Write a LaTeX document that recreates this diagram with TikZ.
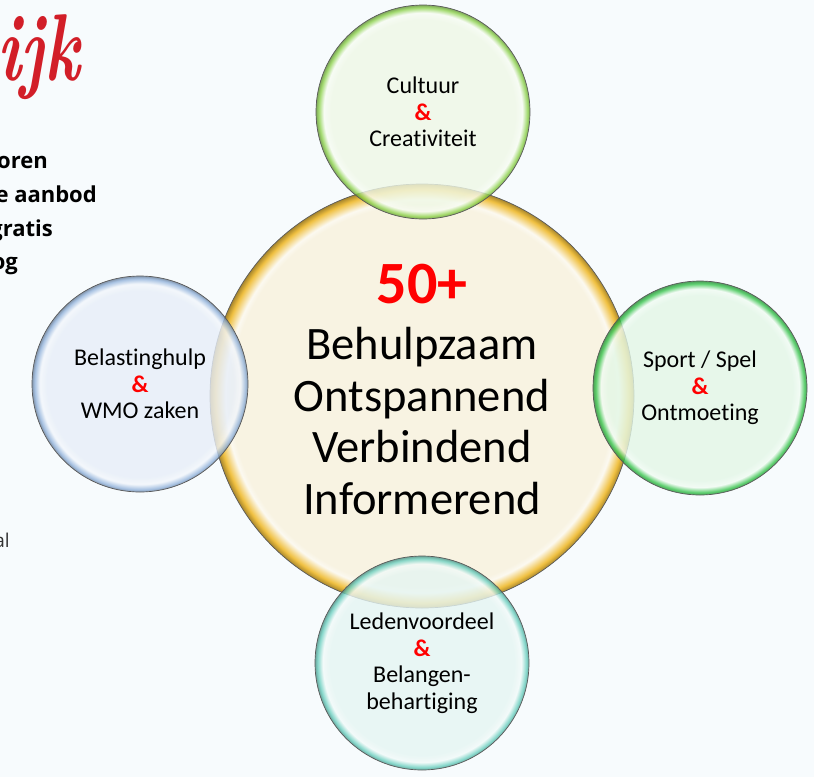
\documentclass[tikz,border=0pt]{standalone}
\usepackage{fontspec}
\usepackage{xcolor}
\newfontfamily\calibri[Ligatures=NoCommon]{Carlito}
\newfontfamily\listfont{Open Sans}
\definecolor{bg}{HTML}{F7FBFD}
\definecolor{amp}{rgb}{1,0,0}
\definecolor{brand}{HTML}{D21E28}
\definecolor{hubin}{HTML}{F8F3E2}
\definecolor{hubrim}{HTML}{F0C040}
\definecolor{topin}{HTML}{EFF8E6}
\definecolor{toprim}{HTML}{8CD24A}
\definecolor{rightin}{HTML}{E3F7E6}
\definecolor{rightrim}{HTML}{35C44A}
\definecolor{botin}{HTML}{E5F5F2}
\definecolor{botrim}{HTML}{6ACFBF}
\definecolor{leftin}{HTML}{E7EEF8}
\definecolor{leftrim}{HTML}{94B4DC}
% circle edge sits at 25bp of the shading
\newcommand{\bubbleshading}[4]{%
  \pgfdeclareradialshading{#1}{\pgfpoint{0bp}{0bp}}{color(0bp)=(#3); color(#4bp)=(#3); color(23.2bp)=(white!50!#3); color(24.4bp)=(#2); color(25bp)=(#2!70!black); color(50bp)=(#2!70!black)}}
\bubbleshading{hubshade}{hubrim}{hubin}{22.6}
\bubbleshading{topshade}{toprim}{topin}{21.6}
\bubbleshading{rightshade}{rightrim}{rightin}{21.6}
\bubbleshading{botshade}{botrim}{botin}{21.6}
\bubbleshading{leftshade}{leftrim}{leftin}{21.6}
\newcommand{\amp}{\textcolor{amp}{\textbf{\&}}}
\tikzstyle{bubble} = [circle,draw=black!65,line width=0.7pt,inner sep=0pt,align=center]
\tikzstyle{hub} = [bubble,minimum size=424pt,shading=hubshade]
\tikzstyle{sat} = [bubble,minimum size=214pt,fill opacity=0.8,text opacity=1,font=\calibri\fontsize{24}{26.5}\selectfont]
\tikzstyle{listline} = [anchor=base east,inner sep=0pt,font=\listfont\bfseries\fontsize{22}{26}\selectfont]

\begin{document}
\begin{tikzpicture}[x=1pt,y=-1pt]
  \useasboundingbox (0,0) rectangle (814,777);
  \fill[bg] (0,0) rectangle (814,777);
  \clip (0,0) rectangle (814,777);
  % slide text, cut off at the left edge
  \node (brand) [anchor=base east,inner sep=0pt,text=brand,font=\bfseries\itshape\fontsize{95}{95}\selectfont] at (80,80) {\scalebox{0.7}[1]{ijk}};
  \node (l1) [listline] at (48,168) {oren};
  \node (l2) [listline] at (97,202) {e aanbod};
  \node (l3) [listline] at (53,236) {gratis};
  \node (l4) [listline] at (18,269) {og};
  \node (l5) [anchor=base east,inner sep=0pt,text=black!80,font=\listfont\fontsize{19}{22}\selectfont] at (10,547) {al};
  % circles
  \node (hub) [hub] at (422,396) {};
  \node (hubtext) [align=center,font=\calibri\fontsize{46.5}{51.5}\selectfont] at (422,389)
    {{\fontsize{60}{60}\selectfont\textcolor{amp}{\textbf{50+}}}\\[5pt]Behulpzaam\\Ontspannend\\Verbindend\\Informerend};
  \node (cult) [sat,shading=topshade] at (423,112) {Cultuur\\\amp\\Creativiteit};
  \node (sport) [sat,shading=rightshade] at (700,388) {Sport / Spel\\\amp\\Ontmoeting};
  \node (leden) [sat,shading=botshade] at (422,663) {Ledenvoordeel\\\amp\\Belangen-\\behartiging};
  \node (belast) [sat,shading=leftshade,minimum size=216pt] at (140,384) {Belastinghulp\\\amp\\WMO zaken};
\end{tikzpicture}
\end{document}
